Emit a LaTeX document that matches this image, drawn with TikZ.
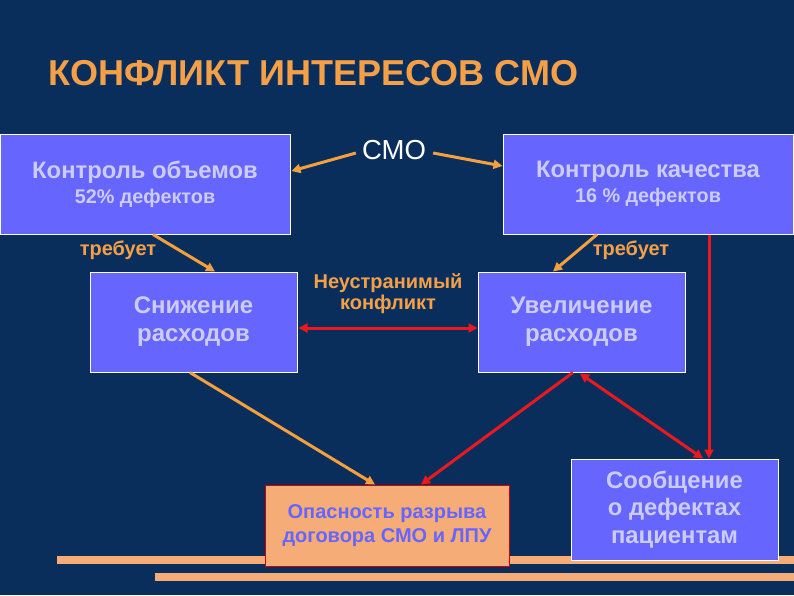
\documentclass[tikz,border=0pt]{standalone}
\usepackage{fontspec}
\setmainfont{Liberation Sans}
\usetikzlibrary{arrows.meta,calc}
\definecolor{bg}{RGB}{10,46,92}
\definecolor{boxfill}{RGB}{102,102,255}
\definecolor{boxtext}{RGB}{204,204,250}
\definecolor{orangeline}{RGB}{245,160,60}
\definecolor{titleor}{RGB}{245,160,70}
\definecolor{redline}{RGB}{235,25,30}
\definecolor{salmon}{RGB}{245,172,118}
\definecolor{etext}{RGB}{102,102,255}
\tikzset{
  bluebox/.style={draw=white, line width=1pt, fill=boxfill, text=boxtext, font=\bfseries, align=center, inner sep=0pt},
  oarrow/.style={draw=orangeline, line width=3pt, -{Triangle[length=9pt,width=9pt]}},
  rarrow/.style={draw=redline, line width=3pt, -{Triangle[length=9pt,width=9pt]}},
  rdarrow/.style={draw=redline, line width=3pt, {Triangle[length=9pt,width=9pt]}-{Triangle[length=9pt,width=9pt]}},
  olabel/.style={text=titleor, font=\bfseries\fontsize{20}{23}\selectfont, align=center, inner sep=0pt},
  stripe/.style={fill=salmon, draw=none}
}
\begin{document}
\begin{tikzpicture}[x=1pt,y=-1pt]
\fill[bg] (0,0) rectangle (794,595);
\useasboundingbox (0,0) rectangle (794,595);
% stripes
\fill[stripe] (57,556) rectangle (794,564);
\fill[stripe] (155,573) rectangle (794,581);
% title
\node[anchor=base west, text=titleor, font=\bfseries\fontsize{36}{40}\selectfont, inner sep=0pt] (title) at (48,85) {КОНФЛИКТ ИНТЕРЕСОВ СМО};
% boxes
\node[bluebox, minimum width=290pt, minimum height=100pt] (A) at (145,184)
  {\fontsize{23.8}{26}\selectfont Контроль объемов\\[5pt]\fontsize{19.8}{26}\selectfont 52\% дефектов};
\node[bluebox, minimum width=290pt, minimum height=100pt] (B) at (648,184)
  {\fontsize{23.8}{26}\selectfont Контроль качества\\[5pt]\fontsize{19.8}{26}\selectfont 16 \% дефектов};
\node[bluebox, minimum width=207pt, minimum height=100pt, font=\bfseries\fontsize{24}{28}\selectfont] (C) at (193.5,322)
  {Снижение\\расходов};
\node[bluebox, minimum width=207pt, minimum height=100pt, font=\bfseries\fontsize{24}{28}\selectfont] (D) at (581.5,322)
  {Увеличение\\расходов};
\node[draw=red!80!black, line width=0.8pt, fill=salmon, text=etext, font=\bfseries\fontsize{20}{24}\selectfont, align=center, inner sep=0pt, minimum width=244pt, minimum height=81pt] (E) at (387,525.5)
  {Опасность разрыва\\договора СМО и ЛПУ};
\node[bluebox, minimum width=207pt, minimum height=101pt, font=\bfseries\fontsize{23.8}{27.5}\selectfont] (F) at (674.5,509.5)
  {Сообщение\\о дефектах\\пациентам};
% labels
\node[text=white, font=\fontsize{27.5}{30}\selectfont, inner sep=0pt] (smo) at (394,150) {СМО};
\node[olabel] (req1) at (118,250) {требует};
\node[olabel] (req2) at (631,250) {требует};
\node[olabel, font=\bfseries\fontsize{20}{21}\selectfont] (conf) at (388,294) {Неустранимый\\конфликт};
% connectors
\draw[oarrow] ($(smo.west)+(-6,3)$) -- ($(A.east)+(1,-13)$);
\draw[oarrow] ($(smo.east)+(7,3)$) -- ($(B.west)+(0,-18)$);
\draw[oarrow] ($(A.south)+(8,0)$) -- ($(C.north)+(21.5,0)$);
\draw[oarrow] ($(B.south)+(-51,0)$) -- ($(D.north)+(-28.5,0)$);
\draw[rdarrow] ($(C.east)+(1,6)$) -- ($(D.west)+(0,6)$);
\draw[oarrow] ($(C.south)+(-3.5,0)$) -- ($(E.north)+(-12,0)$);
\draw[rarrow] ($(D.south)+(-8.5,0)$) -- ($(E.north)+(34,0)$);
\draw[rdarrow] ($(D.south)+(-1.5,1)$) -- ($(F.north)+(28.5,0)$);
\draw[rarrow] ($(B.south)+(61,0)$) -- ($(F.north)+(34.5,0)$);
\end{tikzpicture}
\end{document}
